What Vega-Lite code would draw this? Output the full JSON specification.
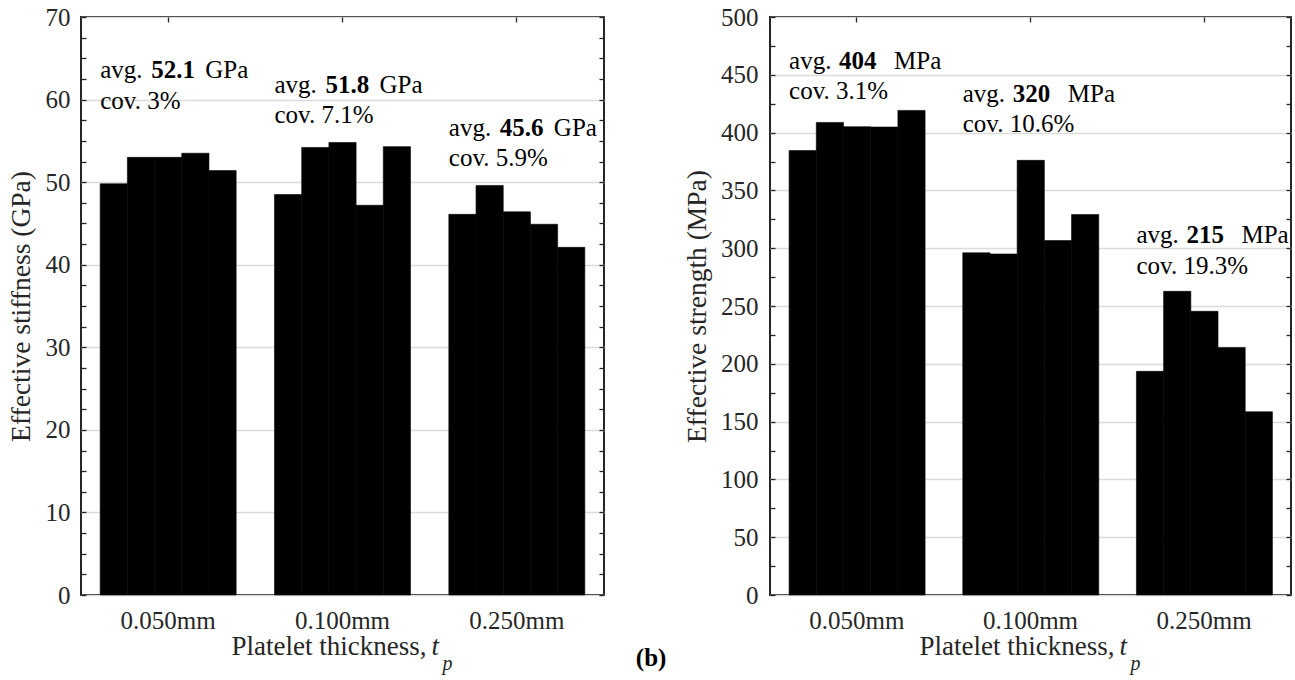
{
  "$schema": "https://vega.github.io/schema/vega-lite/v6.json",
  "background": "white",
  "padding": {"left": 6, "top": 4, "right": 4, "bottom": 0},
  "bounds": "flush",
  "spacing": 166,
  "config": {
    "font": "Liberation Serif, Times New Roman, DejaVu Serif, serif",
    "view": {"stroke": "#262626", "strokeWidth": 2},
    "axis": {
      "labelFont": "Liberation Serif, Times New Roman, DejaVu Serif, serif",
      "labelFontSize": 25,
      "labelColor": "#262626",
      "titleFont": "Liberation Serif, Times New Roman, DejaVu Serif, serif",
      "titleFontSize": 27.5,
      "titleFontWeight": "normal",
      "titleColor": "#262626",
      "domain": false,
      "tickColor": "#262626",
      "tickWidth": 1.3,
      "gridColor": "#dcdcdc",
      "gridWidth": 1.5
    },
    "text": {"font": "Liberation Serif, Times New Roman, DejaVu Serif, serif", "fontSize": 25, "color": "#000"}
  },
  "datasets": {
    "stiffness": [
      {"thickness": "0.050mm", "specimen": 1, "stiffness": 49.8},
      {"thickness": "0.050mm", "specimen": 2, "stiffness": 53.0},
      {"thickness": "0.050mm", "specimen": 3, "stiffness": 53.0},
      {"thickness": "0.050mm", "specimen": 4, "stiffness": 53.5},
      {"thickness": "0.050mm", "specimen": 5, "stiffness": 51.4},
      {"thickness": "0.100mm", "specimen": 1, "stiffness": 48.5},
      {"thickness": "0.100mm", "specimen": 2, "stiffness": 54.2},
      {"thickness": "0.100mm", "specimen": 3, "stiffness": 54.8},
      {"thickness": "0.100mm", "specimen": 4, "stiffness": 47.2},
      {"thickness": "0.100mm", "specimen": 5, "stiffness": 54.3},
      {"thickness": "0.250mm", "specimen": 1, "stiffness": 46.1},
      {"thickness": "0.250mm", "specimen": 2, "stiffness": 49.6},
      {"thickness": "0.250mm", "specimen": 3, "stiffness": 46.4},
      {"thickness": "0.250mm", "specimen": 4, "stiffness": 44.9},
      {"thickness": "0.250mm", "specimen": 5, "stiffness": 42.1}
    ],
    "strength": [
      {"thickness": "0.050mm", "specimen": 1, "strength": 384.5},
      {"thickness": "0.050mm", "specimen": 2, "strength": 408.8},
      {"thickness": "0.050mm", "specimen": 3, "strength": 405.1},
      {"thickness": "0.050mm", "specimen": 4, "strength": 404.8},
      {"thickness": "0.050mm", "specimen": 5, "strength": 419.2},
      {"thickness": "0.100mm", "specimen": 1, "strength": 296.0},
      {"thickness": "0.100mm", "specimen": 2, "strength": 295.0},
      {"thickness": "0.100mm", "specimen": 3, "strength": 376.0},
      {"thickness": "0.100mm", "specimen": 4, "strength": 306.6},
      {"thickness": "0.100mm", "specimen": 5, "strength": 329.1},
      {"thickness": "0.250mm", "specimen": 1, "strength": 193.5},
      {"thickness": "0.250mm", "specimen": 2, "strength": 262.7},
      {"thickness": "0.250mm", "specimen": 3, "strength": 245.4},
      {"thickness": "0.250mm", "specimen": 4, "strength": 214.2},
      {"thickness": "0.250mm", "specimen": 5, "strength": 158.5}
    ],
    "stiffnessNotes": [
      {"thickness": "0.050mm", "avg": "52.1", "unit": "GPa", "cov": "cov. 3%", "lineAvg": 62.6, "lineCov": 58.9},
      {"thickness": "0.100mm", "avg": "51.8", "unit": "GPa", "cov": "cov. 7.1%", "lineAvg": 60.8, "lineCov": 57.2},
      {"thickness": "0.250mm", "avg": "45.6", "unit": "GPa", "cov": "cov. 5.9%", "lineAvg": 55.6, "lineCov": 52.0}
    ],
    "strengthNotes": [
      {"thickness": "0.050mm", "avg": "404", "unit": "MPa", "cov": "cov. 3.1%", "lineAvg": 455.3, "lineCov": 428.7},
      {"thickness": "0.100mm", "avg": "320", "unit": "MPa", "cov": "cov. 10.6%", "lineAvg": 426.4, "lineCov": 400.4},
      {"thickness": "0.250mm", "avg": "215", "unit": "MPa", "cov": "cov. 19.3%", "lineAvg": 304.3, "lineCov": 277.8}
    ]
  },
  "hconcat": [
    {
      "width": 523,
      "height": 578,
      "layer": [
        {
          "data": {"name": "stiffness"},
          "mark": {"type": "bar", "color": "#000", "stroke": "#000", "strokeWidth": 0.6},
          "encoding": {
            "x": {
              "field": "thickness", "type": "nominal", "sort": null,
              "scale": {"paddingInner": 0.22, "paddingOuter": 0.11},
              "axis": {"orient": "bottom", "title": null, "labelAngle": 0, "ticks": false, "labelPadding": 13, "grid": false}
            },
            "xOffset": {"field": "specimen", "type": "ordinal", "scale": {"paddingInner": 0, "paddingOuter": 0}},
            "y": {
              "field": "stiffness", "type": "quantitative",
              "scale": {"domain": [0, 70], "nice": false},
              "axis": {
                "orient": "left",
                "title": "Effective stiffness (GPa)",
                "values": [0, 2.5, 5, 7.5, 10, 12.5, 15, 17.5, 20, 22.5, 25, 27.5, 30, 32.5, 35, 37.5, 40, 42.5, 45, 47.5, 50, 52.5, 55, 57.5, 60, 62.5, 65, 67.5, 70],
                "labelExpr": "datum.value % 10 === 0 ? datum.label : ''",
                "grid": true,
                "gridOpacity": {"condition": {"test": "datum.value % 10 === 0", "value": 1}, "value": 0},
                "tickSize": -5,
                "labelPadding": 16,
                "titlePadding": 10
              }
            }
          }
        },
        {
          "data": {"name": "stiffnessNotes"},
          "mark": {"type": "text", "align": "left", "baseline": "alphabetic", "font": "Liberation Serif, Times New Roman, serif"},
          "encoding": {
            "x": {
              "field": "thickness", "type": "nominal", "sort": null, "bandPosition": 0,
              "axis": {"orient": "top", "title": null, "labels": false, "ticks": true, "tickSize": -5, "grid": false, "bandPosition": 0.5}
            },
            "y": {
              "field": "lineAvg", "type": "quantitative",
              "scale": {"domain": [0, 70], "nice": false},
              "axis": {
                "orient": "right", "title": null, "labels": false, "grid": false, "tickSize": -5,
                "values": [0, 2.5, 5, 7.5, 10, 12.5, 15, 17.5, 20, 22.5, 25, 27.5, 30, 32.5, 35, 37.5, 40, 42.5, 45, 47.5, 50, 52.5, 55, 57.5, 60, 62.5, 65, 67.5, 70]
              }
            },
            "text": {"value": "avg."}
          }
        },
        {
          "data": {"name": "stiffnessNotes"},
          "mark": {"type": "text", "align": "left", "baseline": "alphabetic", "fontWeight": "bold", "dx": 51, "font": "Liberation Serif, Times New Roman, serif"},
          "encoding": {
            "x": {"field": "thickness", "type": "nominal", "sort": null, "bandPosition": 0, "axis": null},
            "y": {"field": "lineAvg", "type": "quantitative", "axis": null},
            "text": {"field": "avg"}
          }
        },
        {
          "data": {"name": "stiffnessNotes"},
          "mark": {"type": "text", "align": "left", "baseline": "alphabetic", "dx": 105, "font": "Liberation Serif, Times New Roman, serif"},
          "encoding": {
            "x": {"field": "thickness", "type": "nominal", "sort": null, "bandPosition": 0, "axis": null},
            "y": {"field": "lineAvg", "type": "quantitative", "axis": null},
            "text": {"field": "unit"}
          }
        },
        {
          "data": {"name": "stiffnessNotes"},
          "mark": {"type": "text", "align": "left", "baseline": "alphabetic", "font": "Liberation Serif, Times New Roman, serif"},
          "encoding": {
            "x": {"field": "thickness", "type": "nominal", "sort": null, "bandPosition": 0, "axis": null},
            "y": {"field": "lineCov", "type": "quantitative", "axis": null},
            "text": {"field": "cov"}
          }
        },
        {
          "data": {"values": [{}]},
          "mark": {"type": "text", "align": "right", "baseline": "alphabetic", "color": "#262626", "fontSize": 27, "dx": 84, "dy": 60, "font": "Liberation Serif, Times New Roman, serif"},
          "encoding": {
            "x": {"datum": "0.100mm", "type": "nominal", "bandPosition": 0.5, "axis": null},
            "y": {"datum": 0, "type": "quantitative", "axis": null},
            "text": {"value": "Platelet thickness,"}
          }
        },
        {
          "data": {"values": [{}]},
          "mark": {"type": "text", "align": "left", "baseline": "alphabetic", "fontStyle": "italic", "color": "#262626", "fontSize": 27, "dx": 89, "dy": 60, "font": "Liberation Serif, Times New Roman, serif"},
          "encoding": {
            "x": {"datum": "0.100mm", "type": "nominal", "bandPosition": 0.5, "axis": null},
            "y": {"datum": 0, "type": "quantitative", "axis": null},
            "text": {"value": "t"}
          }
        },
        {
          "data": {"values": [{}]},
          "mark": {"type": "text", "align": "left", "baseline": "alphabetic", "fontStyle": "italic", "fontSize": 20, "color": "#262626", "dx": 100, "dy": 75, "font": "Liberation Serif, Times New Roman, serif"},
          "encoding": {
            "x": {"datum": "0.100mm", "type": "nominal", "bandPosition": 0.5, "axis": null},
            "y": {"datum": 0, "type": "quantitative", "axis": null},
            "text": {"value": "p"}
          }
        }
      ],
      "resolve": {"axis": {"x": "independent", "y": "independent"}}
    },
    {
      "width": 521,
      "height": 578,
      "layer": [
        {
          "data": {"name": "strength"},
          "mark": {"type": "bar", "color": "#000", "stroke": "#000", "strokeWidth": 0.6},
          "encoding": {
            "x": {
              "field": "thickness", "type": "nominal", "sort": null,
              "scale": {"paddingInner": 0.22, "paddingOuter": 0.11},
              "axis": {"orient": "bottom", "title": null, "labelAngle": 0, "ticks": false, "labelPadding": 13, "grid": false}
            },
            "xOffset": {"field": "specimen", "type": "ordinal", "scale": {"paddingInner": 0, "paddingOuter": 0}},
            "y": {
              "field": "strength", "type": "quantitative",
              "scale": {"domain": [0, 500], "nice": false},
              "axis": {
                "orient": "left",
                "title": "Effective strength (MPa)",
                "values": [0, 25, 50, 75, 100, 125, 150, 175, 200, 225, 250, 275, 300, 325, 350, 375, 400, 425, 450, 475, 500],
                "labelExpr": "datum.value % 50 === 0 ? datum.label : ''",
                "grid": true,
                "gridOpacity": {"condition": {"test": "datum.value % 50 === 0", "value": 1}, "value": 0},
                "tickSize": -5,
                "labelPadding": 17,
                "titlePadding": 9
              }
            }
          }
        },
        {
          "data": {"name": "strengthNotes"},
          "mark": {"type": "text", "align": "left", "baseline": "alphabetic", "font": "Liberation Serif, Times New Roman, serif"},
          "encoding": {
            "x": {
              "field": "thickness", "type": "nominal", "sort": null, "bandPosition": 0,
              "axis": {"orient": "top", "title": null, "labels": false, "ticks": true, "tickSize": -5, "grid": false, "bandPosition": 0.5}
            },
            "y": {
              "field": "lineAvg", "type": "quantitative",
              "scale": {"domain": [0, 500], "nice": false},
              "axis": {
                "orient": "right", "title": null, "labels": false, "grid": false, "tickSize": -5,
                "values": [0, 25, 50, 75, 100, 125, 150, 175, 200, 225, 250, 275, 300, 325, 350, 375, 400, 425, 450, 475, 500]
              }
            },
            "text": {"value": "avg."}
          }
        },
        {
          "data": {"name": "strengthNotes"},
          "mark": {"type": "text", "align": "left", "baseline": "alphabetic", "fontWeight": "bold", "dx": 50, "font": "Liberation Serif, Times New Roman, serif"},
          "encoding": {
            "x": {"field": "thickness", "type": "nominal", "sort": null, "bandPosition": 0, "axis": null},
            "y": {"field": "lineAvg", "type": "quantitative", "axis": null},
            "text": {"field": "avg"}
          }
        },
        {
          "data": {"name": "strengthNotes"},
          "mark": {"type": "text", "align": "left", "baseline": "alphabetic", "dx": 105, "font": "Liberation Serif, Times New Roman, serif"},
          "encoding": {
            "x": {"field": "thickness", "type": "nominal", "sort": null, "bandPosition": 0, "axis": null},
            "y": {"field": "lineAvg", "type": "quantitative", "axis": null},
            "text": {"field": "unit"}
          }
        },
        {
          "data": {"name": "strengthNotes"},
          "mark": {"type": "text", "align": "left", "baseline": "alphabetic", "font": "Liberation Serif, Times New Roman, serif"},
          "encoding": {
            "x": {"field": "thickness", "type": "nominal", "sort": null, "bandPosition": 0, "axis": null},
            "y": {"field": "lineCov", "type": "quantitative", "axis": null},
            "text": {"field": "cov"}
          }
        },
        {
          "data": {"values": [{}]},
          "mark": {"type": "text", "align": "right", "baseline": "alphabetic", "color": "#262626", "fontSize": 27, "dx": 84, "dy": 60, "font": "Liberation Serif, Times New Roman, serif"},
          "encoding": {
            "x": {"datum": "0.100mm", "type": "nominal", "bandPosition": 0.5, "axis": null},
            "y": {"datum": 0, "type": "quantitative", "axis": null},
            "text": {"value": "Platelet thickness,"}
          }
        },
        {
          "data": {"values": [{}]},
          "mark": {"type": "text", "align": "left", "baseline": "alphabetic", "fontStyle": "italic", "color": "#262626", "fontSize": 27, "dx": 89, "dy": 60, "font": "Liberation Serif, Times New Roman, serif"},
          "encoding": {
            "x": {"datum": "0.100mm", "type": "nominal", "bandPosition": 0.5, "axis": null},
            "y": {"datum": 0, "type": "quantitative", "axis": null},
            "text": {"value": "t"}
          }
        },
        {
          "data": {"values": [{}]},
          "mark": {"type": "text", "align": "left", "baseline": "alphabetic", "fontStyle": "italic", "fontSize": 20, "color": "#262626", "dx": 100, "dy": 75, "font": "Liberation Serif, Times New Roman, serif"},
          "encoding": {
            "x": {"datum": "0.100mm", "type": "nominal", "bandPosition": 0.5, "axis": null},
            "y": {"datum": 0, "type": "quantitative", "axis": null},
            "text": {"value": "p"}
          }
        },
        {
          "data": {"values": [{}]},
          "mark": {"type": "text", "align": "center", "baseline": "alphabetic", "fontWeight": "bold", "dx": -138, "dy": 71, "font": "Liberation Serif, Times New Roman, serif"},
          "encoding": {
            "x": {"datum": "0.050mm", "type": "nominal", "bandPosition": 0, "axis": null},
            "y": {"datum": 0, "type": "quantitative", "axis": null},
            "text": {"value": "(b)"}
          }
        }
      ],
      "resolve": {"axis": {"x": "independent", "y": "independent"}}
    }
  ]
}
